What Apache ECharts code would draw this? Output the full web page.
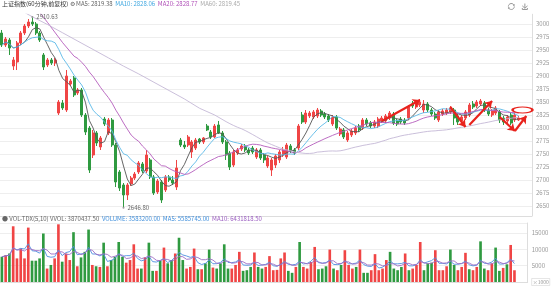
<!DOCTYPE html>
<html><head><meta charset="utf-8">
<script src="https://cdn.jsdelivr.net/npm/echarts@6/dist/echarts.min.js"></script>
<style>html,body{margin:0;padding:0;background:#fff}#c{width:553px;height:287px}</style>
</head><body><div id="c"></div>
<script>
// ---- data (60-minute bars) ----
const opens = [
2982.7,2959.6,2969.2,2919.2,2926.9,2963.5,2982.7,2996.2,3003.8,3000.0,
2982.7,2940.4,2921.2,2930.8,2925.0,2828.8,2848.1,2834.6,2884.6,2896.2,
2867.3,2873.1,2825.0,2800.0,2748.1,2790.4,2763.5,2817.3,2790.4,2815.4,
2767.3,2715.4,2690.4,2671.2,2692.3,2703.8,2715.4,2730.8,2717.3,2738.5,
2705.8,2676.9,2696.2,2680.8,2705.8,2700.0,2686.5,2776.9,2767.3,2767.3,
2753.8,2761.5,2778.8,2773.1,2803.8,2792.3,2782.7,2805.8,2790.4,2773.1,
2751.9,2728.8,2751.9,2759.6,2765.4,2757.7,2761.5,2744.2,2757.7,2748.1,
2726.9,2719.2,2728.8,2738.5,2748.1,2744.2,2765.4,2757.7,2761.5,2825.0,
2811.5,2823.1,2821.2,2823.1,2832.7,2826.9,2823.1,2807.7,2821.2,2788.5,
2796.2,2776.9,2786.5,2790.4,2803.8,2800.0,2815.4,2809.6,2803.8,2803.8,
2813.5,2813.5,2819.2,2826.9,2813.5,2817.3,2815.4,2819.2,2846.2,2840.4,
2844.2,2834.6,2846.2,2834.6,2826.9,2815.4,2826.9,2828.8,2830.8,2834.6,
2823.1,2813.5,2819.2,2825.0,2846.2,2842.3,2846.2,2848.1,2834.6,2825.0,
2828.8,2830.8,2819.2,2813.5,2825.0,2815.4,2815.4];
const closes = [
2959.6,2971.2,2953.8,2930.8,2963.5,2982.7,2996.2,3003.8,3000.0,2982.7,
2969.2,2917.3,2930.8,2925.0,2930.8,2850.0,2838.5,2900.0,2890.4,2863.5,
2873.1,2825.0,2792.3,2719.2,2790.4,2771.2,2780.8,2807.7,2815.4,2767.3,
2696.2,2684.6,2671.2,2690.4,2703.8,2711.5,2732.7,2717.3,2748.1,2705.8,
2675.0,2698.1,2661.5,2705.8,2700.0,2694.2,2723.1,2767.3,2763.5,2782.7,
2773.1,2776.9,2773.1,2780.8,2796.2,2782.7,2803.8,2790.4,2773.1,2748.1,
2725.0,2753.8,2757.7,2765.4,2757.7,2751.9,2753.8,2757.7,2742.3,2738.5,
2742.3,2738.5,2746.2,2753.8,2757.7,2767.3,2755.8,2751.9,2803.8,2811.5,
2828.8,2828.8,2830.8,2834.6,2825.0,2821.2,2815.4,2821.2,2800.0,2798.1,
2782.7,2790.4,2794.2,2800.0,2796.2,2815.4,2807.7,2803.8,2811.5,2817.3,
2819.2,2823.1,2828.8,2809.6,2807.7,2811.5,2809.6,2840.4,2842.3,2848.1,
2850.0,2846.2,2834.6,2826.9,2819.2,2830.8,2832.7,2834.6,2838.5,2819.2,
2811.5,2821.2,2830.8,2844.2,2840.4,2850.0,2851.9,2834.6,2826.9,2832.7,
2838.5,2815.4,2811.5,2821.2,2809.6,2825.0,2819.2];
const lows = [
2955.8,2955.8,2940.4,2911.5,2911.5,2959.6,2978.8,2992.3,2996.2,2978.8,
2965.4,2911.5,2917.3,2921.2,2919.2,2825.0,2834.6,2830.8,2880.8,2859.6,
2863.5,2821.2,2786.5,2713.5,2742.3,2765.4,2757.7,2803.8,2786.5,2763.5,
2686.5,2678.8,2646.8,2661.5,2688.5,2700.0,2711.5,2713.5,2713.5,2701.9,
2671.2,2673.1,2655.8,2676.9,2696.2,2690.4,2680.8,2763.5,2759.6,2763.5,
2742.3,2757.7,2769.2,2769.2,2794.2,2778.8,2780.8,2788.5,2769.2,2738.5,
2719.2,2725.0,2748.1,2755.8,2753.8,2748.1,2750.0,2740.4,2738.5,2732.7,
2723.1,2707.7,2723.1,2732.7,2744.2,2740.4,2751.9,2748.1,2757.7,2807.7,
2807.7,2819.2,2817.3,2819.2,2821.2,2817.3,2811.5,2803.8,2796.2,2784.6,
2778.8,2773.1,2782.7,2786.5,2792.3,2796.2,2803.8,2800.0,2800.0,2800.0,
2809.6,2809.6,2815.4,2805.8,2803.8,2807.7,2805.8,2815.4,2838.5,2836.5,
2840.4,2828.8,2830.8,2823.1,2815.4,2811.5,2823.1,2825.0,2826.9,2805.8,
2805.8,2809.6,2815.4,2821.2,2836.5,2838.5,2842.3,2830.8,2823.1,2821.2,
2825.0,2809.6,2805.8,2809.6,2805.8,2811.5,2813.5];
const highs = [
2988.5,2975.0,2973.1,2936.5,2967.3,2986.5,3000.0,3009.6,3013.5,3003.8,
2986.5,2944.2,2934.6,2934.6,2934.6,2853.8,2853.8,2911.5,2894.2,2900.0,
2876.9,2876.9,2828.8,2803.8,2796.2,2794.2,2784.6,2821.2,2819.2,2819.2,
2771.2,2719.2,2694.2,2694.2,2707.7,2715.4,2736.5,2734.6,2757.7,2742.3,
2709.6,2701.9,2700.0,2709.6,2709.6,2707.7,2738.5,2780.8,2775.0,2786.5,
2776.9,2780.8,2780.8,2782.7,2807.7,2796.2,2807.7,2813.5,2794.2,2776.9,
2755.8,2757.7,2761.5,2769.2,2769.2,2761.5,2765.4,2761.5,2761.5,2751.9,
2746.2,2742.3,2750.0,2757.7,2763.5,2771.2,2769.2,2761.5,2807.7,2830.8,
2834.6,2832.7,2834.6,2838.5,2836.5,2830.8,2826.9,2825.0,2825.0,2801.9,
2800.0,2794.2,2798.1,2803.8,2807.7,2819.2,2819.2,2813.5,2815.4,2821.2,
2823.1,2826.9,2832.7,2830.8,2817.3,2821.2,2819.2,2844.2,2851.9,2853.8,
2855.8,2853.8,2850.0,2838.5,2830.8,2834.6,2836.5,2838.5,2842.3,2838.5,
2826.9,2825.0,2834.6,2848.1,2851.9,2853.8,2855.8,2851.9,2838.5,2836.5,
2842.3,2834.6,2823.1,2825.0,2828.8,2828.8,2823.1];
// volume, in units of 1000
const volumes = [
7700,8200,8700,17000,7200,10200,7200,16600,6500,6500,
7200,14800,4100,5200,7200,17600,6200,8700,6700,15200,
4800,7500,9200,16000,5200,4800,4600,12000,4800,6700,
7700,12200,7700,5900,6700,11500,4100,4100,7500,12000,
3400,3400,6500,10500,5700,6700,8700,13500,6700,4100,
4600,10200,3900,3900,5700,9900,4400,4100,5700,11500,
4100,4100,5200,9200,3400,3600,4600,9000,4600,4100,
4600,7900,3600,3700,7200,9000,3400,2800,4600,12200,
4600,4100,6100,10700,3900,4100,4800,9900,4100,3600,
5200,9700,5200,4100,4600,9900,2800,2800,3600,8500,
3600,4100,6700,9200,4100,3600,4600,8700,3600,4100,
5200,12200,3600,5700,5900,9700,3600,3600,4800,9900,
5200,3600,4600,8900,3900,3600,4600,12400,4100,3600,
5700,10500,3400,4300,5400,11300,3583];
const ma20EarlyIdx = [4, 8, 12, 16];
const ma20EarlyVal = [3070, 3041, 3003, 2964];
const ma60EarlyIdx = [0,4,8,12,16,20,24,28,32,36,40,44,48,52,56];
const ma60EarlyVal = [3046,3030,3014,2999,2983,2967,2951,2935,2919,2904,2888,2872,2856,2838,2825];
// hand-drawn red annotation arrows: [fromIndex, fromPrice, toIndex, toPrice]
const arrowMarks = [[100,2813.5,110,2853.8],[118,2840.4,122,2801.9],[123,2805.8,129,2851.9],[131,2821.2,135,2794.2],[135,2794.2,138,2823.1]];
const circleMark = [137, 2834.6];
const slotCount = 140;

// ---- build ----
const categories = Array.from({length: slotCount}, (_, i) => String(i + 1));
const kData = opens.map((o, i) => [o, closes[i], lows[i], highs[i]]);
function fullMA(src, n, i) { let s = 0; for (let k = i - n + 1; k <= i; k++) s += src[k]; return +(s / n).toFixed(2); }
function partialMA(src, n) { return src.map((_, i) => { const a = Math.max(0, i - n + 1); let s = 0; for (let k = a; k <= i; k++) s += src[k]; return +(s / (i - a + 1)).toFixed(2); }); }
function withEarly(n, idx, val) { return closes.map((_, i) => { if (i >= n - 1) return fullMA(closes, n, i); const j = idx.indexOf(i); return j >= 0 ? val[j] : null; }); }
const ma5 = partialMA(closes, 5);
const ma10 = partialMA(closes, 10);
const ma20 = withEarly(20, ma20EarlyIdx, ma20EarlyVal);
const ma60 = withEarly(60, ma60EarlyIdx, ma60EarlyVal);
const vma5 = partialMA(volumes, 5);
const vma10 = partialMA(volumes, 10);
const UP = '#f04545', DOWN = '#2f9a40', ANNO = '#e8231d';
const volData = volumes.map((v, i) => ({value: v, itemStyle: {color: closes[i] >= opens[i] ? UP : DOWN}}));

const chart = echarts.init(document.getElementById('c'), null, {renderer: 'canvas'});
const F = '"Noto Sans CJK SC", "Noto Sans", sans-serif';
const lineBase = {type: 'line', symbol: 'none', smooth: false, connectNulls: true, silent: true, z: 3};
chart.setOption({
  animation: false,
  backgroundColor: '#fff',
  textStyle: {fontFamily: F},
  title: [
    {left: 2, top: 1, padding: 0,
     text: '{t|上证指数(60分钟,前复权)} {g|⚙} {a|MA5: 2819.38}  {b|MA10: 2828.06}  {c|MA20: 2828.77}  {d|MA60: 2819.45}',
     textStyle: {fontSize: 6, fontWeight: 'normal', rich: {
       t: {fontSize: 6, color: '#333', fontFamily: F}, g: {fontSize: 6, color: '#666'},
       a: {fontSize: 6, color: '#666'}, b: {fontSize: 6, color: '#3fa7e0'},
       c: {fontSize: 6, color: '#b050b8'}, d: {fontSize: 6, color: '#aaa'}}}},
    {left: 2, top: 216, padding: 0,
     text: '{g|●} {a|VOL-TDX(5,10) VVOL: 3870437.50}  {b|VOLUME: 3583200.00}  {b|MA5: 5585745.00}  {c|MA10: 6431818.50}',
     textStyle: {fontSize: 6, fontWeight: 'normal', rich: {
       g: {fontSize: 6, color: '#666'}, a: {fontSize: 6, color: '#666'},
       b: {fontSize: 6, color: '#3f8fdc'}, c: {fontSize: 6, color: '#9a5cc0'}}}}
  ],
  toolbox: {right: 23, top: 1, padding: 0, itemSize: 6, itemGap: 3, iconStyle: {borderColor: '#999'},
            feature: {restore: {}, saveAsImage: {}}},
  grid: [
    {left: 0, right: 21, top: 14.25, height: 201.5},
    {left: 0, right: 21, top: 223, height: 59}
  ],
  xAxis: [
    {type: 'category', gridIndex: 0, data: categories, boundaryGap: true,
     axisLine: {lineStyle: {color: '#ddd'}}, axisTick: {show: false}, axisLabel: {show: false}, splitLine: {show: false}},
    {type: 'category', gridIndex: 1, data: categories, boundaryGap: true,
     axisLine: {lineStyle: {color: '#ddd'}}, axisTick: {show: false}, axisLabel: {show: false}, splitLine: {show: false}}
  ],
  yAxis: [
    {type: 'value', gridIndex: 0, position: 'right', min: 2631.25, max: 3018.75, interval: 6.25,
     axisLine: {show: true, lineStyle: {color: '#ddd'}}, axisTick: {show: false},
     axisLabel: {fontSize: 6, color: '#999', margin: 4, showMinLabel: false, showMaxLabel: false,
                 formatter: v => (Math.abs(v % 25) < 1e-6 ? String(v) : '')},
     splitLine: {show: true, lineStyle: {color: ['transparent', 'transparent', 'transparent', '#eeeeee'], width: 1}}},
    {type: 'value', gridIndex: 1, position: 'right', min: 0, max: 18000, interval: 5000,
     axisLine: {show: true, lineStyle: {color: '#ddd'}}, axisTick: {show: false},
     axisLabel: {fontSize: 6, color: '#999', margin: 4, showMaxLabel: false,
                 formatter: v => (v === 0 ? '{u|×1000}' : String(v)),
                 rich: {u: {fontSize: 5, color: '#999', borderColor: '#ccc', borderWidth: 0.5, padding: [1, 1]}}},
     splitLine: {show: true, lineStyle: {color: '#eeeeee'}}}
  ],
  series: [
    {name: 'K', type: 'candlestick', xAxisIndex: 0, yAxisIndex: 0, data: kData, barWidth: '70%',
     itemStyle: {color: UP, color0: DOWN, borderColor: UP, borderColor0: DOWN, borderWidth: 1},
     markPoint: {silent: true, data: [
       {type: 'max', valueDim: 'highest', symbol: 'circle', symbolSize: 2, itemStyle: {color: '#999'},
        label: {show: true, position: 'right', distance: 3, formatter: '2910.63', color: '#666', fontSize: 6}},
       {type: 'min', valueDim: 'lowest', symbol: 'circle', symbolSize: 2, itemStyle: {color: '#999'},
        label: {show: true, position: 'right', distance: 3, formatter: p => Number(p.value).toFixed(2), color: '#666', fontSize: 6}},
       {coord: circleMark, symbol: 'circle', symbolSize: [20, 6],
        itemStyle: {color: 'rgba(0,0,0,0)', borderColor: ANNO, borderWidth: 1.5}, label: {show: false}}
     ]},
     markLine: {silent: true, symbol: ['none', 'arrow'], symbolSize: 7, label: {show: false},
       lineStyle: {color: ANNO, width: 2.2, type: 'solid'}, emphasis: {disabled: true},
       data: arrowMarks.map(a => [{coord: [a[0], a[1]]}, {coord: [a[2], a[3]]}])}},
    Object.assign({name: 'MA5', data: ma5, xAxisIndex: 0, yAxisIndex: 0, lineStyle: {width: 0.9, color: '#555'}}, lineBase),
    Object.assign({name: 'MA10', data: ma10, xAxisIndex: 0, yAxisIndex: 0, lineStyle: {width: 0.9, color: '#5ab9e8'}}, lineBase),
    Object.assign({name: 'MA20', data: ma20, xAxisIndex: 0, yAxisIndex: 0, lineStyle: {width: 0.9, color: '#b45cbc'}}, lineBase),
    Object.assign({name: 'MA60', data: ma60, xAxisIndex: 0, yAxisIndex: 0, lineStyle: {width: 0.9, color: '#c4b8d6'}}, lineBase),
    {name: 'VOL', type: 'bar', xAxisIndex: 1, yAxisIndex: 1, data: volData, barWidth: '70%', silent: true},
    Object.assign({name: 'VMA5', data: vma5, xAxisIndex: 1, yAxisIndex: 1, lineStyle: {width: 0.9, color: '#4d8fe0'}}, lineBase),
    Object.assign({name: 'VMA10', data: vma10, xAxisIndex: 1, yAxisIndex: 1, lineStyle: {width: 0.9, color: '#9d6cc4'}}, lineBase)
  ]
});
</script>
</body></html>
